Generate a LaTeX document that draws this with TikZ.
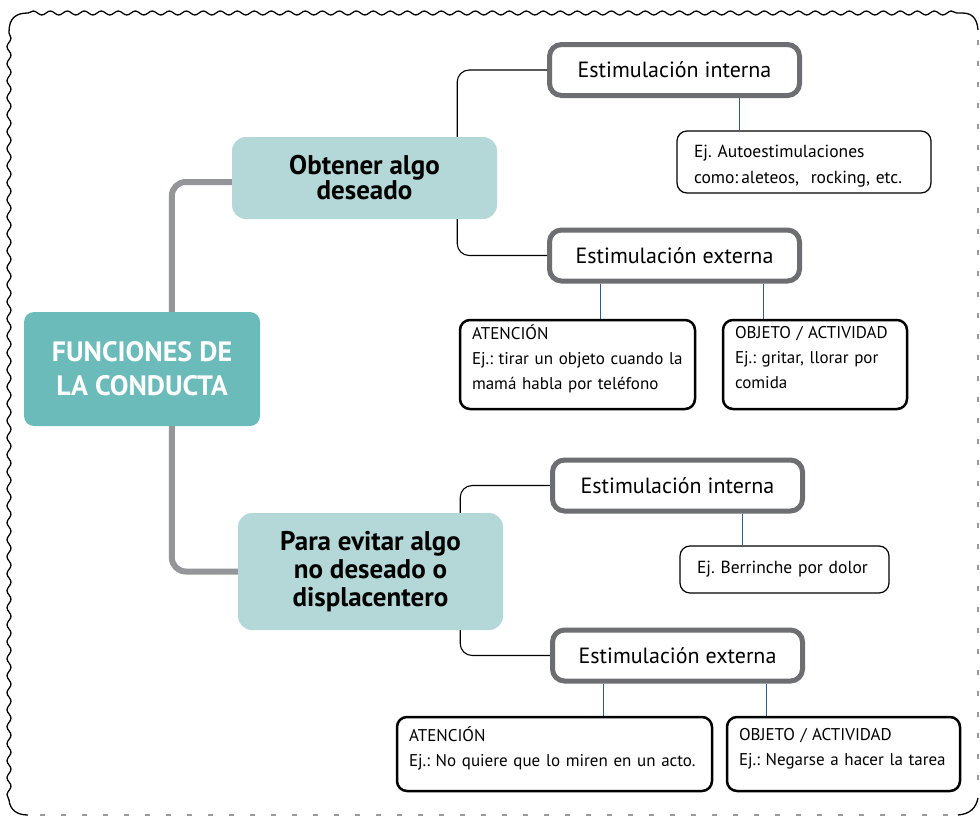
\documentclass[tikz,border=0pt]{standalone}
\usepackage{fontspec}
\setmainfont{PT Sans}
\usetikzlibrary{decorations.pathmorphing,backgrounds,calc}
\definecolor{tealA}{HTML}{6BBBBA}
\definecolor{tealB}{HTML}{B3D8D7}
\definecolor{congray}{HTML}{939598}
\definecolor{boxgray}{HTML}{6D6E71}
\definecolor{conblue}{HTML}{2E5B8E}
\definecolor{dashgray}{HTML}{9A9A9A}
\newcommand\xdp{\rule[-14pt]{0pt}{14pt}}
\newcommand\xht{\rule{0pt}{20pt}}
\begin{document}
\frenchspacing
\begin{tikzpicture}[x=1pt,y=-1pt,
  mainbox/.style={fill=tealA, rounded corners=10pt, text=white, font=\fontsize{28}{34}\selectfont\bfseries, align=center, inner sep=0pt, minimum width=236pt, minimum height=114pt},
  subbox/.style={fill=tealB, rounded corners=14pt, align=center, inner sep=0pt, minimum width=265pt},
  stimbox/.style={draw=boxgray, line width=5pt, fill=white, rounded corners=12pt, minimum width=250pt, minimum height=51pt, font=\fontsize{22}{25}\selectfont, inner sep=0pt},
  thinbox/.style={draw=black, line width=1.2pt, fill=white, rounded corners=10pt, align=left, inner xsep=17pt, inner ysep=0pt, font=\fontsize{17.5}{26}\selectfont},
  thickbox/.style={draw=black, line width=2.5pt, fill=white, rounded corners=10pt, align=left, inner xsep=12pt, inner ysep=0pt, font=\fontsize{17}{25}\selectfont},
  graycon/.style={draw=congray, line width=6pt, rounded corners=14pt},
  blkcon/.style={draw=black, line width=1.1pt, rounded corners=12pt},
  bluecon/.style={draw=conblue, line width=1pt},
  wavy/.style={draw=black, line width=1.3pt, decorate, decoration={snake, segment length=17pt, amplitude=2pt}},
  edge/.style={draw=black, line width=1.3pt},
  dashedge/.style={draw=dashgray, line width=1.5pt, dash pattern=on 5pt off 16pt}
]
\useasboundingbox (0,0) rectangle (980,817);

% nodes
\node[mainbox] (main) at (142,369) {FUNCIONES DE\\LA CONDUCTA};
\node[subbox, minimum height=82pt, font=\fontsize{27}{25}\selectfont\bfseries] (obt) at (364.5,178) {Obtener algo\\deseado};
\node[subbox, minimum height=117pt, font=\fontsize{27}{28}\selectfont\bfseries] (para) at (370.5,571.5) {Para evitar algo\\no deseado o\\displacentero};

\node[stimbox] (ei1) at (674.5,70) {Estimulación interna};
\node[stimbox] (ee1) at (674.5,255.5) {Estimulación externa};
\node[stimbox] (ei2) at (677.5,485.5) {Estimulación interna};
\node[stimbox] (ee2) at (677.5,655.5) {Estimulación externa};

\node[thinbox, text width=220pt, minimum height=62pt] (ex1) at (804,162) {\xht Ej. Autoestimulaciones\\como:\hspace{3pt}aleteos,\ \ rocking, etc.};
\node[thinbox, text width=175pt, minimum height=47pt] (ex2) at (784.5,569.5) {Ej. Berrinche por dolor};

\node[thickbox, text width=211pt, minimum height=89pt] (at1) at (577.5,364.5) {ATENCIÓN\\Ej.: tirar un objeto cuando la\\mamá habla por teléfono\xdp};
\node[thickbox, text width=160pt, minimum height=89pt] (ob1) at (815,364.5) {OBJETO / ACTIVIDAD\\Ej.: gritar, llorar por\\comida\xdp};
\node[thickbox, text width=291pt, minimum height=74pt] (at2) at (554.5,754) {ATENCIÓN\\Ej.: No quiere que lo miren en un acto.\xdp};
\node[thickbox, text width=209pt, minimum height=74pt] (ob2) at (843.5,754) {OBJETO / ACTIVIDAD\\Ej.: Negarse a hacer la tarea\xdp};

\begin{scope}[on background layer]
  \fill[white] (0,0) rectangle (980,817);
  % frame
  \draw[wavy] (9,800) -- (9,32);
  \draw[edge] (9,32) .. controls (9,18) and (16,13) .. (28,13);
  \draw[wavy] (28,13) -- (962,13);
  \draw[edge] (962,13) .. controls (972,13) and (977,18) .. (978,30);
  \draw[edge] (9,800) .. controls (10,810) and (17,815) .. (28,815);
  \draw[dashedge] (40,815) -- (952,815);
  \draw[dashedge] (978,40) -- (978,795);
  \draw[edge] (958,815) .. controls (970,814) and (976,808) .. (978,798);
  % connectors
  \draw[graycon] ([xshift=148pt]main.north west) |- ([yshift=-4pt]obt.west);
  \draw[graycon] ([xshift=148pt]main.south west) |- (para.west);
  \draw[blkcon] (ei1.west) -| ([xshift=-40pt]obt.east) |- (ee1.west);
  \draw[blkcon] (ei2.west) -| ([xshift=-43pt]para.east) |- (ee2.west);
  \draw[bluecon] ([xshift=63pt]ex1.north west) -- ([xshift=63pt]ex1.north west |- ei1.south);
  \draw[bluecon] ([xshift=142pt]at1.north west) -- ([xshift=142pt]at1.north west |- ee1.south);
  \draw[bluecon] ([xshift=42pt]ob1.north west) -- ([xshift=42pt]ob1.north west |- ee1.south);
  \draw[bluecon] ([xshift=63pt]ex2.north west) -- ([xshift=63pt]ex2.north west |- ei2.south);
  \draw[bluecon] ([xshift=208pt]at2.north west) -- ([xshift=208pt]at2.north west |- ee2.south);
  \draw[bluecon] ([xshift=41pt]ob2.north west) -- ([xshift=41pt]ob2.north west |- ee2.south);
\end{scope}
\end{tikzpicture}
\end{document}
